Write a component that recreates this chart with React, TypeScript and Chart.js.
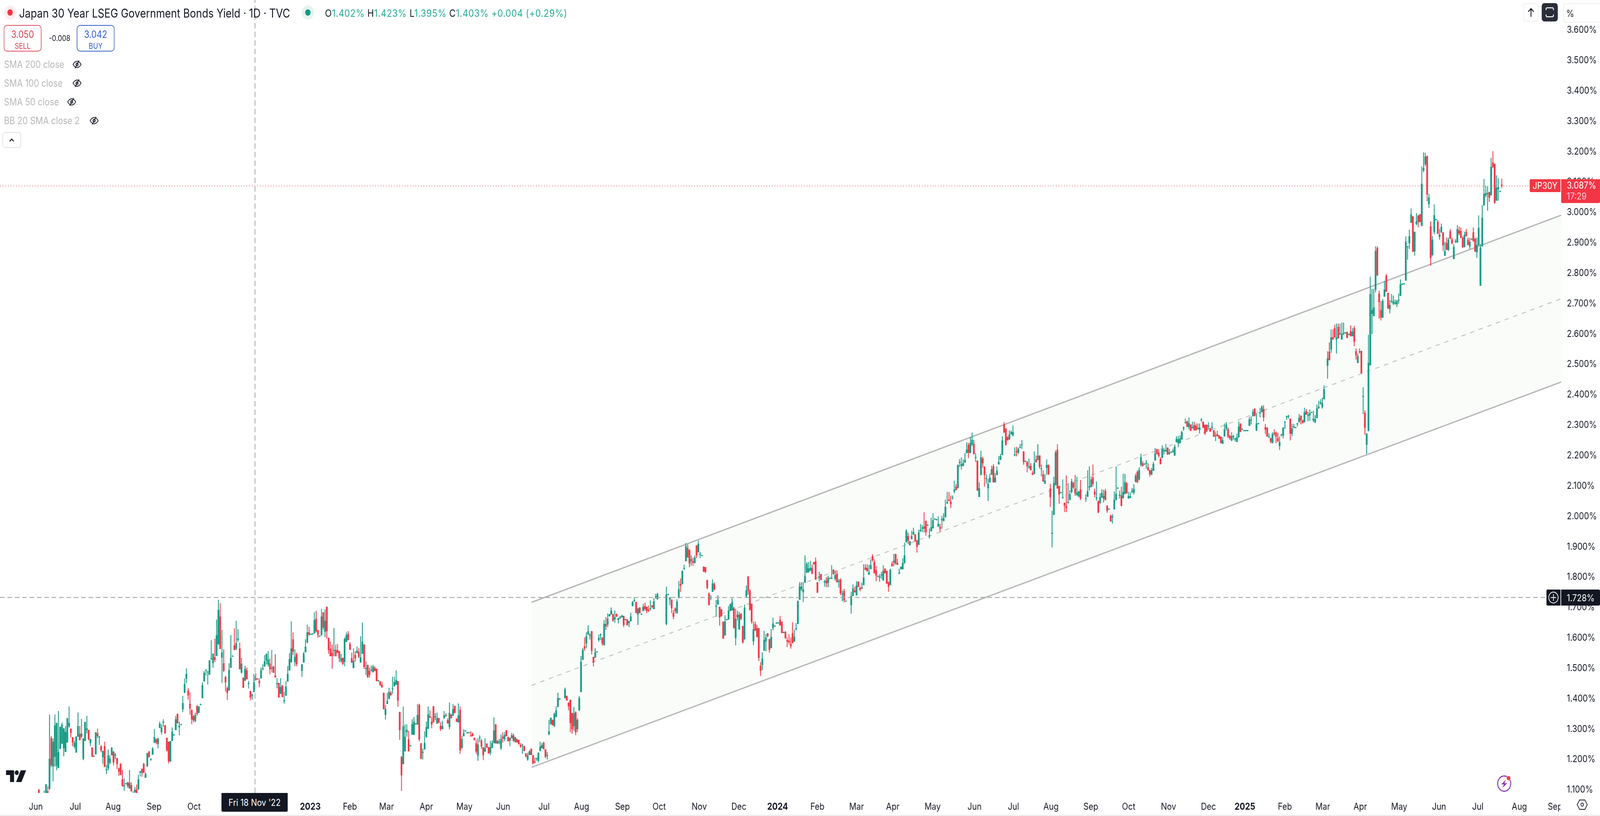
import { useEffect, useRef } from "react";
import { Chart, registerables } from "chart.js";

Chart.register(...registerables);

// candles in thousandths of a percent: [open, high, low, close], null = no print
type Bar = [number, number, number, number] | null;

const barsFrom2022: Bar[] = [
[1100,1102,1060,1070],[1060,1080,1040,1070],[1060,1080,1040,1070],[1070,1098,1060,1085],[1090,1118,1085,1118],[1095,1111,1080,1085],[1104,1347,1100,1202],[1270,1277,1175,1181],[1177,1269,1128,1258],[1209,1348,1177,1312],
[1179,1320,1165,1320],[1172,1359,1172,1224],[1235,1307,1235,1307],[1252,1321,1252,1314],[1237,1303,1211,1301],[1225,1309,1225,1290],[1256,1336,1256,1335],[1309,1374,1305,1320],[1301,1301,1273,1287],[1273,1273,1244,1256],
[1242,1262,1236,1255],[1223,1275,1223,1275],[1275,1354,1275,1309],[1284,1310,1264,1264],[1275,1333,1271,1285],[1202,1269,1198,1269],[1261,1323,1261,1323],[1297,1343,1286,1302],[1297,1297,1263,1267],[1254,1267,1244,1267],
[1239,1239,1209,1209],[1210,1211,1209,1210],[1217,1289,1217,1289],[1286,1301,1271,1277],[1273,1275,1248,1273],[1243,1247,1224,1230],[1208,1228,1186,1228],[1243,1258,1175,1176],[1165,1182,1152,1165],[1171,1232,1165,1213],
[1190,1213,1185,1202],[1214,1239,1214,1239],[1226,1226,1181,1190],[1213,1220,1202,1213],[1204,1204,1169,1185],[1170,1173,1147,1160],[1186,1186,1149,1149],[1134,1165,1111,1113],[1112,1137,1097,1112],[1119,1120,1118,1119],
[1124,1126,1107,1113],[1105,1165,1104,1122],[1115,1125,1095,1095],[1080,1095,1070,1085],[1093,1109,1090,1100],[1100,1117,1090,1090],[1102,1149,1100,1134],[1157,1162,1145,1157],[1169,1169,1143,1157],[1185,1188,1156,1156],
[1140,1157,1140,1152],[1177,1222,1177,1220],[1225,1228,1207,1207],[1200,1203,1196,1200],[1216,1240,1216,1235],[1256,1300,1254,1273],[1266,1268,1250,1256],[1251,1271,1237,1269],[1304,1324,1304,1317],[1290,1316,1282,1305],
[1321,1332,1307,1321],[1312,1312,1284,1287],[1271,1271,1227,1230],[1258,1258,1187,1194],[1193,1260,1193,1260],[1261,1305,1261,1291],[1280,1281,1279,1280],[1297,1343,1297,1332],[1350,1350,1319,1319],[1306,1324,1280,1310],
[1314,1315,1313,1314],[1365,1409,1356,1385],[1419,1466,1419,1448],[1466,1499,1451,1481],[1426,1434,1397,1411],[1383,1420,1348,1368],[1362,1365,1316,1332],[1342,1346,1323,1329],[1327,1353,1323,1346],[1375,1379,1345,1350],
[1354,1375,1353,1374],[1380,1381,1379,1380],[1402,1453,1402,1444],[1457,1491,1457,1485],[1493,1494,1477,1493],[1487,1488,1447,1487],[1479,1526,1479,1526],[1530,1592,1528,1530],[1517,1548,1502,1548],[1536,1597,1521,1528],
[1541,1660,1541,1608],[1579,1725,1579,1692],[1670,1714,1564,1564],[1535,1626,1452,1552],[1516,1562,1488,1492],[1471,1475,1424,1454],[1435,1440,1396,1419],[1427,1516,1427,1494],[1502,1609,1502,1534],[1539,1540,1538,1539],
[1575,1631,1560,1561],[1564,1656,1560,1582],[1593,1628,1588,1598],[1565,1584,1497,1497],[1486,1534,1483,1515],[1469,1469,1436,1436],[1459,1508,1459,1498],[1493,1502,1464,1464],[1449,1458,1434,1449],[1424,1426,1395,1404],
[1410,1416,1397,1410],[1422,1481,1422,1454],[1467,1484,1461,1461],[1464,1465,1463,1464],[1458,1467,1438,1452],[1467,1502,1467,1493],[1497,1513,1493,1497],[1506,1543,1506,1523],[1526,1548,1513,1547],[1513,1556,1506,1528],
[1515,1532,1481,1497],[1499,1560,1487,1499],[1506,1507,1485,1486],[1476,1546,1470,1470],[1448,1467,1434,1451],[1451,1452,1404,1404],[1416,1467,1416,1438],[1443,1444,1405,1406],[1392,1422,1384,1392],[1410,1458,1410,1440],
[1457,1507,1457,1481],[1493,1549,1493,1530],[1520,1654,1520,1565],[1595,1618,1544,1555],[1521,1562,1507,1537],[1546,1551,1507,1514],
];

const barsFrom2023: Bar[] = [
[1492,1513,1472,1513],[1519,1553,1519,1548],[1553,1595,1553,1571],[1585,1643,1583,1618],[1618,1636,1607,1611],[1611,1612,1610,1611],[1612,1613,1611,1612],[1615,1684,1615,1658],[1663,1689,1618,1622],[1625,1625,1601,1611],
[1605,1606,1604,1605],[1609,1695,1609,1670],[1684,1684,1627,1634],[1621,1693,1603,1656],[1702,1702,1598,1622],[1600,1600,1548,1560],[1564,1588,1540,1540],[1550,1577,1499,1541],[1558,1632,1540,1558],[1560,1577,1539,1541],
[1560,1580,1551,1551],[1556,1556,1521,1533],[1524,1547,1519,1533],[1534,1534,1511,1515],[1521,1601,1507,1596],[1587,1618,1587,1609],[1613,1622,1593,1593],[1580,1586,1561,1561],[1533,1551,1519,1519],[1501,1565,1501,1525],
[1543,1556,1523,1533],[1550,1571,1550,1558],[1554,1566,1534,1538],[1519,1605,1519,1536],[1548,1650,1548,1587],[1578,1578,1498,1504],[1498,1523,1478,1498],[1511,1511,1468,1472],[1491,1502,1470,1479],[1493,1508,1489,1493],
[1487,1511,1487,1506],[1501,1506,1491,1491],[1498,1498,1458,1458],[1458,1459,1457,1458],[1457,1457,1444,1444],[1446,1455,1437,1437],[1419,1419,1365,1366],[1347,1378,1332,1366],[1383,1419,1383,1392],[1399,1436,1399,1422],
[1419,1425,1410,1412],[1431,1471,1416,1431],[1441,1472,1441,1455],[1446,1493,1446,1461],[1458,1458,1374,1394],[1356,1356,1265,1297],[1208,1211,1097,1148],[1185,1374,1185,1309],[1227,1315,1227,1274],[1290,1315,1275,1297],
[1266,1294,1227,1227],[1244,1245,1243,1244],[1282,1332,1282,1316],[1281,1339,1281,1324],[1316,1317,1315,1316],[1315,1382,1315,1346],[1379,1383,1260,1266],[1253,1253,1202,1202],[1222,1235,1200,1222],[1233,1292,1233,1254],
[1275,1324,1271,1306],[1301,1374,1301,1349],[1342,1361,1337,1337],[1324,1339,1303,1315],[1374,1376,1322,1322],[1339,1352,1329,1339],[1318,1354,1318,1336],[1336,1336,1321,1321],[1310,1322,1294,1300],[1300,1327,1300,1310],
[1337,1359,1333,1345],[1346,1352,1342,1342],[1329,1335,1319,1319],[1307,1387,1299,1353],[1348,1348,1336,1336],[1344,1382,1344,1366],[1376,1376,1353,1353],[1334,1334,1324,1324],[1322,1384,1322,1345],[1363,1374,1219,1230],
[1237,1277,1237,1267],[1277,1299,1277,1286],[1293,1294,1292,1293],[1287,1288,1286,1287],[1287,1288,1286,1287],[1277,1292,1276,1276],[1285,1288,1277,1277],[1271,1271,1264,1264],[1253,1264,1219,1226],[1212,1269,1196,1249],
[1270,1279,1257,1270],[1262,1267,1235,1243],[1240,1240,1198,1214],[1226,1269,1226,1237],[1252,1252,1239,1239],[1240,1240,1220,1220],[1222,1261,1214,1240],[1238,1262,1238,1254],[1254,1338,1254,1295],[1315,1315,1253,1253],
[1252,1262,1252,1262],[1256,1267,1250,1256],[1237,1282,1232,1267],[1275,1289,1256,1269],[1267,1290,1260,1280],[1296,1296,1277,1277],[1274,1274,1260,1260],[1262,1271,1244,1271],[1270,1287,1270,1279],[1279,1285,1258,1262],
[1258,1273,1256,1273],[1267,1267,1256,1256],[1264,1264,1250,1250],[1247,1254,1239,1242],[1247,1249,1219,1247],[1244,1244,1228,1228],[1220,1220,1207,1211],[1200,1222,1196,1213],[1215,1230,1215,1226],[1235,1235,1215,1215],
[1214,1214,1184,1187],[1191,1205,1188,1190],[1202,1204,1196,1202],[1196,1222,1191,1222],[1228,1258,1228,1242],[1237,1254,1237,1247],[1254,1258,1233,1235],[1233,1233,1205,1209],[1212,1224,1200,1212],[1283,1330,1280,1292],
[1316,1337,1316,1337],[1330,1330,1313,1313],[1309,1354,1309,1350],[1340,1374,1340,1361],[1373,1419,1373,1402],[1398,1399,1397,1398],
];

const barsLate2023: Bar[] = [
[1402,1436,1402,1430],[1409,1409,1394,1394],[1385,1389,1362,1375],[1396,1396,1290,1320],[1352,1352,1285,1300],[1310,1372,1295,1352],[1355,1358,1280,1290],[1300,1335,1290,1330],[1362,1408,1360,1402],[1422,1540,1422,1521],
[1528,1566,1528,1561],[1572,1601,1558,1565],[1582,1618,1567,1605],[1611,1641,1611,1622],[1608,1614,1595,1608],[1622,1622,1546,1558],[1537,1537,1507,1520],[1535,1566,1535,1552],[1553,1554,1552,1553],[1593,1610,1588,1600],
[1609,1614,1593,1609],[1601,1601,1575,1582],[1576,1658,1576,1646],[1645,1668,1627,1638],[1644,1680,1636,1663],[1671,1678,1671,1678],[1677,1700,1677,1690],[1678,1678,1653,1657],[1661,1690,1650,1668],[1679,1679,1670,1670],
[1660,1665,1648,1665],[1664,1672,1664,1668],[1668,1676,1668,1673],[1672,1672,1636,1643],[1659,1660,1658,1659],[1661,1661,1642,1642],[1649,1655,1636,1655],[1655,1682,1655,1670],[1705,1721,1704,1718],[1721,1732,1719,1721],
[1718,1718,1682,1682],[1677,1697,1643,1697],[1700,1700,1682,1682],[1677,1678,1676,1677],[1689,1712,1688,1703],[1704,1715,1691,1695],[1702,1702,1682,1689],[1693,1706,1685,1689],[1695,1723,1691,1695],[1707,1707,1698,1702],
[1695,1730,1695,1720],[1734,1745,1729,1734],[1727,1748,1727,1744],null,null,null,null,[1646,1768,1642,1742],[1742,1743,1741,1742],[1727,1733,1708,1733],
[1726,1726,1682,1698],[1682,1691,1662,1670],[1696,1700,1682,1689],[1682,1727,1680,1719],[1731,1787,1731,1760],[1777,1795,1752,1772],[1777,1822,1777,1819],[1827,1841,1824,1827],[1853,1912,1852,1902],[1895,1907,1864,1865],
[1890,1890,1833,1845],[1853,1872,1838,1859],[1852,1864,1837,1847],[1847,1871,1846,1864],[1904,1904,1863,1872],[1882,1919,1882,1909],[1874,1882,1863,1874],[1870,1871,1869,1870],[1833,1835,1817,1819],[1832,1833,1814,1817],
[1790,1791,1761,1764],[1746,1749,1708,1708],[1731,1740,1725,1731],[1752,1792,1752,1779],[1777,1783,1757,1760],[1703,1724,1670,1706],[1710,1740,1710,1725],[1702,1702,1641,1668],[1693,1695,1670,1672],[1653,1653,1597,1598],
[1609,1674,1607,1653],[1659,1660,1658,1659],[1661,1704,1660,1690],[1689,1713,1689,1710],[1691,1730,1691,1718],[1697,1702,1631,1633],[1600,1695,1576,1663],[1676,1689,1658,1668],[1628,1685,1628,1676],[1680,1680,1659,1663],
[1639,1639,1582,1585],[1595,1709,1595,1699],[1737,1772,1732,1756],[1802,1802,1742,1755],[1755,1760,1690,1693],[1712,1712,1647,1653],[1589,1653,1576,1628],[1645,1653,1623,1625],[1631,1642,1603,1603],[1632,1632,1524,1535],
[1508,1520,1475,1492],[1511,1552,1494,1531],[1558,1623,1558,1593],[1588,1612,1556,1601],[1614,1616,1603,1605],[1595,1597,1552,1561],[1567,1629,1567,1603],[1633,1666,1625,1647],[1638,1639,1637,1638],[1648,1649,1647,1648],
[1648,1649,1647,1648],[1659,1672,1641,1641],[1653,1653,1616,1616],[1617,1618,1616,1617],[1619,1622,1597,1600],[1593,1601,1570,1588],[1590,1612,1580,1585],[1580,1601,1565,1573],[1615,1651,1583,1583],[1588,1627,1588,1603],
[1629,1648,1625,1629],[1646,1723,1646,1720],[1726,1783,1726,1769],[1760,1783,1755,1769],[1751,1783,1718,1759],[1782,1871,1782,1803],[1815,1849,1813,1843],[1817,1849,1815,1828],[1822,1853,1820,1830],[1830,1841,1810,1812],
[1849,1849,1842,1842],[1852,1864,1792,1792],[1783,1783,1749,1749],[1799,1817,1787,1802],[1810,1810,1791,1791],
];

const barsFrom2024: Bar[] = [
[1783,1791,1769,1783],[1789,1800,1767,1780],[1781,1804,1767,1797],[1795,1796,1794,1795],[1795,1839,1794,1795],[1824,1825,1810,1810],[1795,1821,1789,1806],[1811,1821,1783,1783],[1785,1794,1766,1785],[1791,1796,1741,1747],
[1743,1755,1721,1743],[1754,1761,1717,1724],[1720,1721,1719,1720],null,null,[1708,1751,1680,1738],[1738,1776,1738,1763],[1755,1768,1749,1751],[1740,1786,1740,1772],[1785,1785,1768,1768],
[1764,1768,1754,1759],[1762,1781,1762,1766],[1774,1842,1774,1798],[1831,1842,1824,1824],[1830,1842,1819,1819],[1809,1840,1807,1815],[1827,1858,1826,1839],[1868,1875,1851,1856],[1850,1858,1812,1813],[1823,1836,1787,1806],
[1802,1803,1801,1802],[1799,1809,1785,1799],[1806,1817,1795,1806],[1789,1839,1789,1820],[1828,1828,1813,1813],[1820,1821,1779,1779],[1783,1785,1752,1769],[1774,1827,1774,1824],[1844,1851,1836,1836],[1848,1876,1836,1854],
[1876,1876,1841,1845],[1846,1860,1841,1841],[1812,1827,1810,1812],[1826,1834,1826,1834],[1826,1862,1826,1846],[1846,1913,1845,1871],[1916,1957,1913,1952],[1935,1946,1909,1920],[1905,1918,1905,1918],[1925,1952,1925,1935],
[1941,1962,1939,1948],[1940,1941,1917,1918],[1920,1922,1881,1900],[1907,1956,1906,1947],[1951,1974,1950,1955],[1960,1971,1949,1960],[1966,2013,1947,1960],[1985,1985,1937,1948],[1970,1971,1969,1970],[1934,1960,1927,1937],
[1951,1995,1951,1964],[1961,2010,1960,1987],[1990,1991,1989,1990],[1988,1989,1987,1988],[1967,2000,1965,1975],[1965,1975,1948,1959],[1988,2001,1960,1988],[1985,2010,1984,1994],[1997,2055,1997,2031],[2043,2080,2041,2047],
[2055,2080,2050,2051],[2048,2068,2028,2041],[2060,2068,2055,2060],[2082,2117,2076,2088],[2097,2106,2086,2087],[2093,2169,2093,2169],[2176,2188,2163,2176],[2166,2194,2154,2172],[2166,2187,2165,2175],[2177,2208,2177,2185],
[2209,2243,2208,2219],[2235,2241,2192,2209],[2209,2260,2208,2241],[2237,2275,2232,2251],[2238,2251,2204,2205],[2192,2207,2179,2192],[2183,2183,2085,2085],[2064,2112,2064,2092],[2136,2215,2136,2194],[2190,2196,2160,2175],
[2163,2164,2098,2136],[2123,2138,2108,2123],[2093,2123,2051,2106],[2112,2140,2112,2127],[2137,2166,2137,2155],[2164,2171,2112,2112],[2112,2142,2112,2127],[2136,2164,2136,2150],[2171,2198,2171,2179],[2186,2205,2186,2198],
[2202,2263,2202,2249],[2303,2310,2274,2277],[2289,2289,2234,2235],[2261,2262,2250,2250],[2254,2282,2252,2269],[2271,2282,2269,2277],[2267,2299,2263,2277],[2201,2227,2198,2201],[2214,2228,2198,2211],[2210,2226,2205,2222],
[2226,2238,2224,2226],[2234,2251,2222,2234],[2213,2214,2170,2179],[2180,2181,2179,2180],[2179,2181,2145,2164],[2160,2190,2158,2160],[2166,2175,2152,2152],[2142,2149,2136,2137],[2140,2213,2139,2175],[2187,2200,2177,2178],
[2186,2237,2185,2199],[2200,2200,2157,2163],[2155,2170,2132,2155],[2138,2151,2114,2115],[2108,2138,2107,2117],[2160,2187,2137,2169],[2169,2170,2137,2138],[2091,2107,2031,2063],[1943,2018,1898,1943],[2005,2130,2005,2109],
[2103,2217,2103,2211],[2219,2237,2091,2093],[2099,2100,2042,2072],[2077,2078,2076,2077],[2060,2121,2059,2060],[2044,2045,2015,2035],[2033,2134,2014,2027],[2045,2106,2042,2045],[2054,2085,2054,2073],[2080,2123,2076,2115],
[2111,2112,2091,2095],[2091,2136,2068,2076],[2070,2130,2068,2078],[2065,2082,2064,2082],[2088,2119,2054,2059],
];

const barsLate2024: Bar[] = [
[2057,2072,2048,2057],[2065,2151,2064,2082],[2095,2164,2085,2099],[2097,2131,2096,2121],[2127,2170,2099,2107],[2081,2091,2063,2072],[2059,2114,2052,2059],[2050,2051,2011,2013],[2044,2076,2042,2063],[2062,2089,2061,2077],
[2059,2087,2046,2067],[2083,2090,2053,2054],[2035,2036,2012,2018],[2023,2024,2022,2023],[2002,2005,1983,1983],[1997,2007,1977,1997],[2023,2081,2023,2054],[2054,2164,2053,2074],[2092,2093,2091,2092],[2068,2084,2059,2068],
[2068,2097,2033,2035],[2060,2140,2059,2080],[2074,2139,2073,2112],[2108,2113,2076,2076],[2059,2080,2058,2066],[2061,2079,2060,2066],[2081,2093,2076,2081],[2078,2105,2072,2090],[2114,2140,2112,2133],[2146,2151,2110,2112],
[2122,2161,2119,2152],[2170,2205,2164,2194],[2174,2181,2164,2166],[2171,2172,2170,2171],[2174,2185,2157,2174],[2161,2174,2150,2153],[2152,2153,2131,2138],[2138,2159,2136,2151],[2150,2179,2150,2172],[2184,2224,2184,2206],
[2220,2222,2204,2206],[2209,2221,2194,2199],[2189,2194,2171,2173],[2193,2233,2192,2221],[2215,2224,2204,2215],[2214,2238,2213,2218],[2226,2226,2203,2203],[2206,2221,2203,2210],[2210,2211,2209,2210],[2213,2222,2209,2216],
[2200,2236,2200,2229],[2244,2263,2244,2255],[2241,2264,2228,2253],[2241,2266,2241,2256],[2254,2281,2252,2277],[2289,2295,2282,2289],[2307,2322,2306,2307],[2312,2315,2294,2295],[2294,2325,2286,2307],[2302,2302,2281,2282],
[2291,2311,2289,2291],[2300,2311,2283,2283],[2298,2305,2283,2283],[2288,2305,2286,2288],[2285,2305,2273,2292],[2316,2323,2311,2316],[2311,2311,2291,2292],[2301,2301,2269,2273],[2301,2301,2279,2280],[2296,2309,2285,2296],
[2290,2290,2279,2279],[2292,2309,2285,2292],[2283,2283,2261,2263],[2264,2277,2248,2264],[2270,2281,2263,2264],[2266,2267,2255,2256],[2262,2262,2241,2241],[2239,2260,2239,2250],[2263,2305,2263,2286],[2289,2309,2283,2301],
[2286,2292,2258,2263],[2264,2268,2252,2257],[2250,2276,2248,2264],[2261,2268,2253,2261],[2253,2258,2247,2253],[2245,2272,2245,2260],[2260,2312,2260,2295],[2305,2305,2277,2279],[2286,2287,2285,2286],[2281,2282,2280,2281],
[2281,2282,2280,2281],[2281,2282,2280,2281],[2298,2326,2298,2318],[2316,2329,2303,2316],[2331,2352,2329,2343],[2353,2356,2329,2331],[2282,2338,2282,2305],[2304,2305,2303,2304],[2339,2356,2326,2339],[2343,2365,2343,2360],
[2353,2365,2313,2326],[2293,2304,2271,2286],[2291,2292,2262,2263],[2260,2273,2258,2260],[2257,2258,2241,2246],[2241,2276,2241,2270],[2275,2286,2266,2271],[2275,2279,2241,2262],[2257,2274,2245,2248],[2232,2262,2219,2244],
[2267,2270,2263,2267],[2266,2292,2257,2292],[2309,2312,2288,2309],[2326,2331,2318,2326],[2328,2334,2322,2328],[2321,2321,2250,2272],[2272,2304,2264,2289],[2293,2304,2290,2296],[2291,2292,2290,2291],[2303,2307,2296,2303],
[2310,2336,2309,2324],[2331,2331,2303,2316],[2315,2318,2306,2307],[2310,2357,2310,2342],[2346,2352,2334,2335],[2331,2343,2313,2331],[2332,2351,2315,2339],[2341,2342,2340,2341],[2316,2347,2311,2321],[2310,2333,2307,2319],
[2323,2367,2323,2355],[2356,2380,2354,2361],[2372,2385,2367,2372],[2360,2390,2355,2373],[2385,2431,2385,2418],
];

const barsFrom2025: Bar[] = [
[2496,2543,2453,2519],[2541,2572,2514,2514],[2549,2614,2538,2588],[2589,2615,2582,2582],[2619,2630,2589,2589],[2582,2634,2536,2588],[2623,2634,2586,2586],[2600,2634,2597,2600],[2582,2637,2582,2600],[2600,2637,2597,2600],
[2603,2605,2601,2603],[2606,2608,2586,2588],[2598,2600,2596,2598],[2608,2628,2593,2593],[2593,2619,2593,2608],[2619,2626,2560,2575],[2543,2552,2516,2530],[2505,2535,2505,2527],[2540,2552,2536,2540],[2544,2544,2470,2471],
[2393,2424,2337,2393],[2340,2348,2269,2291],[2236,2272,2206,2272],[2282,2597,2280,2505],[2497,2788,2497,2731],[2667,2748,2600,2678],[2659,2748,2659,2687],[2746,2888,2737,2873],[2883,2888,2791,2794],[2732,2742,2651,2705],
[2678,2707,2645,2654],[2654,2715,2654,2709],[2723,2774,2723,2746],[2792,2797,2739,2739],[2735,2735,2683,2685],[2682,2711,2668,2695],[2707,2731,2702,2707],[2700,2726,2695,2707],[2700,2713,2697,2700],[2698,2711,2689,2709],
[2710,2733,2700,2710],[2726,2779,2725,2763],[2763,2764,2762,2763],[2764,2765,2763,2764],[2776,2921,2776,2904],[2886,2888,2845,2886],[2899,2943,2880,2921],[2967,3013,2965,2993],[2987,2987,2870,2871],[2872,2936,2858,2936],
[2962,2997,2958,2970],[2990,2990,2951,2969],[2993,2995,2967,2969],[2956,3151,2955,3094],[3138,3197,3133,3146],[3159,3196,3153,3183],[3185,3187,3037,3059],[3028,3061,3015,3049],[2954,2970,2825,2851],[2860,2922,2858,2910],
[2936,3026,2928,2991],[2975,2976,2974,2975],[2969,2975,2929,2931],[2919,2945,2910,2927],[2934,2963,2933,2952],[2934,2934,2873,2892],[2858,2903,2857,2872],[2899,2917,2877,2877],[2877,2917,2873,2910],[2938,2945,2912,2914],
[2911,2917,2895,2899],[2847,2895,2847,2886],[2903,2912,2899,2903],[2901,2958,2901,2945],[2941,2953,2925,2931],[2938,2950,2916,2917],[2917,2920,2883,2886],[2886,2936,2886,2926],[2936,2945,2921,2923],[2910,2917,2892,2894],
[2888,2917,2880,2903],[2911,2912,2910,2911],[2934,2950,2904,2906],[2914,2914,2870,2872],[2869,2917,2851,2892],[2892,2990,2891,2949],[2759,2895,2759,2884],[2889,3024,2888,2982],[3024,3110,3022,3061],[3056,3087,3050,3063],
[3061,3085,3006,3061],[3066,3068,3035,3049],[3057,3179,3056,3150],[3164,3201,3146,3150],[3159,3160,3030,3032],[3039,3122,3039,3081],[3077,3113,3039,3083],[3068,3069,3067,3068],[3091,3111,3081,3087],
];

const segmentStartBar = [0, 148, 296, 442, 589, 725];
const segments = [barsFrom2022, barsFrom2023, barsLate2023, barsFrom2024, barsLate2024, barsFrom2025];

const monthLabels = ["Jun", "Jul", "Aug", "Sep", "Oct", "2023", "Feb", "Mar", "Apr", "May", "Jun", "Jul", "Aug", "Sep", "Oct", "Nov", "Dec", "2024", "Feb", "Mar", "Apr", "May", "Jun", "Jul", "Aug", "Sep", "Oct", "Nov", "Dec", "2025", "Feb", "Mar", "Apr", "May", "Jun", "Jul", "Aug", "Sep"];
const monthBars = [-1.7, 20.5, 41.8, 64.8, 87.3, 152.7, 175, 195.6, 218, 239.4, 261.2, 284.2, 305.3, 328.3, 349, 371.5, 393.8, 415.6, 438, 460, 480.4, 502.8, 526.4, 548.3, 569.4, 591.8, 613.1, 635.5, 658, 678.5, 701, 722.3, 743.4, 765.3, 787.7, 809.5, 832.9, 853];
const yieldTicks = [1.1, 1.2, 1.3, 1.4, 1.5, 1.6, 1.7, 1.8, 1.9, 2.0, 2.1, 2.2, 2.3, 2.4, 2.5, 2.6, 2.7, 2.8, 2.9, 3.0, 3.1, 3.2, 3.3, 3.4, 3.5, 3.6];

// parallel channel, start and end
const channelBars = [277.2, 856.4];
const channelTop = [1.717, 2.991];
const channelMid = [1.444, 2.716];
const channelBottom = [1.174, 2.442];

const crosshairBar = 121.6;
const crosshairYield = 1.733;
const lastPrice = 3.087;
const lastPriceEndBar = 838.7;

const X_MIN = -21.86;
const X_MAX = 856.4;
const Y_MIN = 1.0897;
const Y_MAX = 3.699;

const GREEN = "#169a83";
const RED = "#f23645";

// the browser window stops at 4096 wide, so the 4776 layout is squeezed to fit it
const DESIGN_WIDTH = 4776;

function Label({ x, y, children, style }: { x: number; y: number; children: React.ReactNode; style?: React.CSSProperties }) {
  return (
    <div style={{ position: "absolute", left: x, top: y, transform: "translateY(-50%)", whiteSpace: "pre", ...style }}>
      {children}
    </div>
  );
}

function EyeOff({ x, y }: { x: number; y: number }) {
  return (
    <svg style={{ position: "absolute", left: x - 15, top: y - 12 }} width="30" height="24" viewBox="0 0 30 24" fill="none" stroke="#131722" strokeWidth="2">
      <path d="M3 12c4-6 8-8 12-8s8 2 12 8c-4 6-8 8-12 8s-8-2-12-8z" />
      <circle cx="15" cy="12" r="3.5" />
      <path d="M21 2L9 22" />
    </svg>
  );
}

export default function App() {
  const canvasRef = useRef<HTMLCanvasElement | null>(null);
  const fit = Math.min(1, window.innerWidth / DESIGN_WIDTH);

  useEffect(() => {
    if (!canvasRef.current) return;

    const wicks: { x: number; y: number[] }[] = [];
    const bodies: { x: number; y: number[] }[] = [];
    const wickColors: string[] = [];
    segments.forEach((segment, s) => {
      segment.forEach((bar, i) => {
        if (!bar) return;
        const [o, h, l, c] = bar;
        const x = segmentStartBar[s] + i;
        const color = c >= o ? GREEN : RED;
        wicks.push({ x, y: [l / 1000, h / 1000] });
        bodies.push({ x, y: [Math.min(o, c) / 1000, Math.max(o, c) / 1000] });
        wickColors.push(color);
      });
    });

    const twoPoints = (xs: number[], ys: number[]) => xs.map((x, i) => ({ x, y: ys[i] }));

    const chart = new Chart(canvasRef.current, {
      type: "bar",
      data: {
        datasets: [
          {
            type: "bar",
            data: bodies,
            backgroundColor: wickColors,
            barThickness: 4.5,
            minBarLength: 2,
            grouped: false,
            order: 2,
          },
          {
            type: "bar",
            data: wicks,
            backgroundColor: wickColors,
            barThickness: 1.8,
            grouped: false,
            order: 3,
          },
          {
            type: "line",
            data: twoPoints(channelBars, channelTop),
            borderColor: "#b8b8b8",
            borderWidth: 3.5,
            pointRadius: 0,
            fill: { target: 3 },
            backgroundColor: "#fafcfa",
            order: 6,
          },
          {
            type: "line",
            data: twoPoints(channelBars, channelBottom),
            borderColor: "#b8b8b8",
            borderWidth: 3.5,
            pointRadius: 0,
            order: 5,
          },
          {
            type: "line",
            data: twoPoints(channelBars, channelMid),
            borderColor: "#c4c6c4",
            borderWidth: 2.5,
            borderDash: [13, 14],
            pointRadius: 0,
            order: 4,
          },
          {
            type: "line",
            data: twoPoints([X_MIN, X_MAX], [crosshairYield, crosshairYield]),
            borderColor: "#9a9a9a",
            borderWidth: 2,
            borderDash: [14, 8],
            pointRadius: 0,
            order: 1,
          },
          {
            type: "line",
            data: twoPoints([crosshairBar, crosshairBar], [Y_MIN, Y_MAX]),
            borderColor: "#9a9a9a",
            borderWidth: 2,
            borderDash: [14, 8],
            pointRadius: 0,
            order: 1,
          },
          {
            type: "line",
            data: twoPoints([X_MIN, lastPriceEndBar], [lastPrice, lastPrice]),
            borderColor: "#d8616c",
            borderWidth: 2,
            borderDash: [2, 6],
            pointRadius: 0,
            order: 1,
          },
        ],
      },
      options: {
        responsive: false,
        animation: false,
        events: [],
        layout: { padding: 0 },
        plugins: { legend: { display: false }, tooltip: { enabled: false }, title: { display: false } },
        scales: {
          x: {
            type: "linear",
            min: X_MIN,
            max: X_MAX,
            offset: false,
            grid: { display: false, drawTicks: false },
            border: { display: false },
            afterBuildTicks: (scale: any) => {
              scale.ticks = monthBars.map((value) => ({ value }));
            },
            afterFit: (scale: any) => {
              scale.height = 59;
              scale.paddingLeft = 0;
              scale.paddingRight = 0;
            },
            ticks: {
              autoSkip: false,
              maxRotation: 0,
              padding: 21,
              color: "#131722",
              font: (ctx: any) => {
                const label = monthLabels[monthBars.indexOf(ctx.tick?.value)];
                return { family: "Inter", size: 24, weight: label && label.length === 4 ? "bold" : "normal" };
              },
              callback: (value: any) => monthLabels[monthBars.indexOf(value)] ?? "",
            },
          },
          y: {
            type: "linear",
            position: "right",
            min: Y_MIN,
            max: Y_MAX,
            grid: { display: false, drawTicks: false },
            border: { display: false },
            afterBuildTicks: (scale: any) => {
              scale.ticks = yieldTicks.map((value) => ({ value }));
            },
            afterFit: (scale: any) => {
              // tick padding would otherwise inset the plot from the top edge
              scale.width = 116;
              scale.paddingTop = 0;
              scale.paddingBottom = 0;
            },
            ticks: {
              autoSkip: false,
              padding: 17,
              color: "#131722",
              font: { family: "Inter", size: 24 },
              callback: (value: any) => `${Number(value).toFixed(3)}%`,
            },
          },
        },
      },
    } as any);

    return () => chart.destroy();
  }, []);

  const tagFont = { fontFamily: "Inter", fontSize: 24, color: "#fff" };

  return (
    <div style={{ position: "absolute", left: 0, top: 0, width: DESIGN_WIDTH, height: 2090, overflow: "hidden", background: "#fff", fontFamily: "Inter", color: "#131722", transform: `scaleX(${fit})`, transformOrigin: "0 0" }}>
      <canvas ref={canvasRef} width={DESIGN_WIDTH} height={2090} style={{ display: "block" }} />

      {/* legend, top left */}
      <div style={{ position: "absolute", left: 12, top: 14, width: 36, height: 36, borderRadius: 18, background: "#fdecef" }} />
      <div style={{ position: "absolute", left: 22, top: 24, width: 16, height: 16, borderRadius: 8, background: RED }} />
      <Label x={57} y={33} style={{ fontSize: 30.5 }}>Japan 30 Year LSEG Government Bonds Yield · 1D · TVC</Label>
      <div style={{ position: "absolute", left: 901, top: 14, width: 36, height: 36, borderRadius: 18, background: "#e3f3f0" }} />
      <div style={{ position: "absolute", left: 911, top: 24, width: 16, height: 16, borderRadius: 8, background: "#089981" }} />
      <Label x={970} y={33} style={{ fontSize: 26, letterSpacing: 0.85, color: "#22ab94" }}>
        <span style={{ color: "#131722" }}>O</span>1.402% <span style={{ color: "#131722" }}>H</span>1.423% <span style={{ color: "#131722" }}>L</span>1.395% <span style={{ color: "#131722" }}>C</span>1.403% +0.004 (+0.29%)
      </Label>

      <div style={{ position: "absolute", left: 11, top: 64, width: 113, height: 68, boxSizing: "border-box", border: "2.5px solid #d9535f", borderRadius: 10, textAlign: "center", color: "#d9404e" }}>
        <div style={{ fontSize: 25, lineHeight: "38px", marginTop: 3 }}>3.050</div>
        <div style={{ fontSize: 20, lineHeight: "22px" }}>SELL</div>
      </div>
      <Label x={178} y={98} style={{ fontSize: 20, transform: "translate(-50%,-50%)" }}>-0.008</Label>
      <div style={{ position: "absolute", left: 229, top: 64, width: 113, height: 68, boxSizing: "border-box", border: "2.5px solid #3a66c8", borderRadius: 10, textAlign: "center", color: "#2f5fd0" }}>
        <div style={{ fontSize: 25, lineHeight: "38px", marginTop: 3 }}>3.042</div>
        <div style={{ fontSize: 20, lineHeight: "22px" }}>BUY</div>
      </div>

      <Label x={12} y={165} style={{ fontSize: 25, color: "#b8b8b8" }}>SMA 200 close</Label>
      <EyeOff x={230} y={165} />
      <Label x={12} y={213} style={{ fontSize: 25, color: "#b8b8b8" }}>SMA 100 close</Label>
      <EyeOff x={230} y={213} />
      <Label x={12} y={261} style={{ fontSize: 25, color: "#b8b8b8" }}>SMA 50 close</Label>
      <EyeOff x={214} y={261} />
      <Label x={12} y={309} style={{ fontSize: 25, color: "#b8b8b8" }}>BB 20 SMA close 2</Label>
      <EyeOff x={281} y={309} />
      <div style={{ position: "absolute", left: 7, top: 338, width: 56, height: 41, boxSizing: "border-box", border: "2px solid #e3e3e3", borderRadius: 6 }}>
        <svg width="52" height="37" viewBox="0 0 52 37" fill="none" stroke="#131722" strokeWidth="2.5"><path d="M20 22l6-6 6 6" /></svg>
      </div>

      {/* top right buttons */}
      <div style={{ position: "absolute", left: 4547, top: 8, width: 46, height: 47, boxSizing: "border-box", border: "2px solid #eee", borderRadius: 8 }}>
        <svg width="42" height="43" viewBox="0 0 42 43" fill="none" stroke="#131722" strokeWidth="2.5"><path d="M21 33V12M13 20l8-8 8 8" /></svg>
      </div>
      <div style={{ position: "absolute", left: 4602, top: 8, width: 48, height: 47, borderRadius: 8, background: "#2a2e39" }}>
        <svg width="48" height="47" viewBox="0 0 48 47" fill="none" stroke="#fff" strokeWidth="2.5"><path d="M13 18v-3a3 3 0 0 1 3-3h16a3 3 0 0 1 3 3v3M13 29v3a3 3 0 0 0 3 3h16a3 3 0 0 0 3-3v-3" /></svg>
      </div>
      <div style={{ position: "absolute", left: 4667, top: 8, width: 120, height: 50, boxSizing: "border-box", border: "2px solid #eee", borderRadius: 8 }} />
      <Label x={4675} y={34} style={{ fontSize: 24 }}>%</Label>

      {/* price tags */}
      <div style={{ position: "absolute", left: 4566, top: 459, width: 92, height: 33, background: RED, borderRadius: "4px 0 0 4px", textAlign: "center", lineHeight: "33px", ...tagFont }}>JP30Y</div>
      <div style={{ position: "absolute", left: 4660, top: 459, width: 116, height: 61, background: RED, borderRadius: "0 0 4px 4px", ...tagFont }}>
        <div style={{ position: "absolute", left: 17, top: 1, lineHeight: "30px" }}>3.087%</div>
        <div style={{ position: "absolute", left: 17, top: 29, lineHeight: "30px", opacity: 0.75 }}>17:29</div>
      </div>
      <div style={{ position: "absolute", left: 4616, top: 1510, width: 42, height: 41, background: "#131722", borderRadius: "4px 0 0 4px" }}>
        <svg width="42" height="41" viewBox="0 0 42 41" fill="none" stroke="#fff" strokeWidth="2"><circle cx="21" cy="20.5" r="14" /><path d="M21 12v17M12.5 20.5h17" /></svg>
      </div>
      <div style={{ position: "absolute", left: 4660, top: 1510, width: 116, height: 41, background: "#131722", borderRadius: "0 4px 4px 0", lineHeight: "43px", ...tagFont }}>
        <span style={{ position: "absolute", left: 17 }}>1.728%</span>
      </div>
      <div style={{ position: "absolute", left: 661, top: 2031, width: 198, height: 48, background: "#131722", borderRadius: "0 0 4px 4px", textAlign: "center", lineHeight: "50px", ...tagFont }}>Fri 18 Nov '22</div>

      {/* logo and icons */}
      <svg style={{ position: "absolute", left: 18, top: 1973 }} width="60" height="30" viewBox="0 0 60 30" fill="#131722">
        <path d="M0 0h24v30H12V12H0z" />
        <circle cx="32" cy="6" r="6" />
        <path d="M44 0h16L46 30H30z" />
      </svg>
      <svg style={{ position: "absolute", left: 4466, top: 1984 }} width="48" height="46" viewBox="0 0 48 46" fill="none">
        <circle cx="24" cy="23" r="19.5" stroke="#8e3bb3" strokeWidth="3" />
        <path d="M29 13L15 25h8l-4 9 14-12h-8z" fill="#8e3bb3" />
        <circle cx="37" cy="9" r="6" fill="#f23645" stroke="#fff" strokeWidth="1" />
      </svg>

      {/* cover for the clipped time labels, then the settings icon */}
      <div style={{ position: "absolute", left: 4658, top: 2031, width: 118, height: 59, background: "#fff" }} />
      <svg style={{ position: "absolute", left: 4706, top: 2047 }} width="34" height="28" viewBox="0 0 34 28" fill="none" stroke="#131722" strokeWidth="2">
        <path d="M9 2h16l7 12-7 12H9L2 14z" />
        <circle cx="17" cy="14" r="4" />
      </svg>
      <div style={{ position: "absolute", left: 0, top: 2087, width: DESIGN_WIDTH, height: 3, background: "#eeeeee" }} />
    </div>
  );
}
